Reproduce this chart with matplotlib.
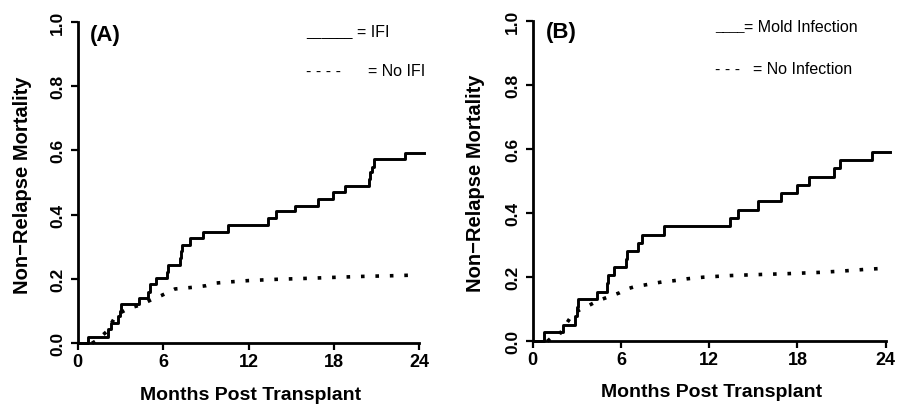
import matplotlib
matplotlib.use("Agg")
import matplotlib.pyplot as plt

plt.rcParams['font.family'] = ['Liberation Sans', 'DejaVu Sans']

# panel A: IFI vs no IFI
times_A = [0, 0.7, 2.1, 2.34, 2.85, 2.95, 3.05, 4.3, 4.96, 5.05, 5.5, 6.25, 6.35,
           7.19, 7.25, 7.35, 7.9, 8.83, 10.58, 13.39, 13.93, 15.27, 16.86, 17.92,
           18.79, 20.47, 20.55, 20.65, 20.83, 22.99, 24.3]
nrm_A = [0, 0.019, 0.044, 0.063, 0.086, 0.101, 0.122, 0.141, 0.16, 0.184, 0.202,
         0.222, 0.244, 0.264, 0.286, 0.306, 0.326, 0.345, 0.367, 0.389, 0.41,
         0.428, 0.449, 0.471, 0.49, 0.51, 0.532, 0.549, 0.573, 0.592, 0.592]
dot_t_A = [1.0, 1.3, 2.0, 2.66, 3.0, 3.6, 4.4, 5.2, 5.85, 6.84, 7.6, 8.3, 9.0,
           9.65, 10.4, 12.0, 14.0, 16.2, 18.0, 20.0, 22.0, 23.6]
dot_v_A = [0.0, 0.008, 0.035, 0.084, 0.095, 0.109, 0.119, 0.136, 0.148, 0.169,
           0.172, 0.175, 0.179, 0.187, 0.19, 0.195, 0.199, 0.202, 0.205, 0.208,
           0.21, 0.212]

# panel B: mold infection vs no infection
times_B = [0, 0.77, 2.08, 2.88, 2.98, 3.08, 4.35, 5.07, 5.15, 5.53, 6.34, 6.42,
           7.18, 7.41, 8.95, 13.41, 13.94, 15.3, 16.88, 17.95, 18.79, 20.5, 20.89,
           23.04, 24.3]
nrm_B = [0, 0.028, 0.051, 0.078, 0.106, 0.132, 0.155, 0.182, 0.208, 0.231, 0.257,
         0.283, 0.307, 0.333, 0.361, 0.385, 0.411, 0.439, 0.463, 0.489, 0.514,
         0.54, 0.567, 0.59, 0.59]
dot_t_B = [1.0, 1.3, 1.8, 2.72, 3.2, 3.71, 4.24, 4.76, 5.3, 5.89, 6.39, 6.98, 7.66,
           8.27, 8.9, 9.6, 10.5, 11.6, 13.4, 15.2, 17.3, 19.5, 21.0, 22.5, 24.0]
dot_v_B = [0.0, 0.012, 0.02, 0.085, 0.098, 0.109, 0.122, 0.132, 0.141, 0.151,
           0.163, 0.171, 0.176, 0.181, 0.186, 0.189, 0.195, 0.2, 0.205, 0.208,
           0.211, 0.215, 0.219, 0.224, 0.228]

x_ticks = [0, 6, 12, 18, 24]
y_ticks = [0.0, 0.2, 0.4, 0.6, 0.8, 1.0]

fig = plt.figure(figsize=(9.07, 4.06), dpi=100)
axA = fig.add_axes([0.0857, 0.152, 0.3766, 0.792])
axB = fig.add_axes([0.5873, 0.157, 0.3892, 0.789])


def style_axis(ax):
    ax.set_xlim(0, 24)
    ax.set_ylim(0, 1)
    ax.spines['top'].set_visible(False)
    ax.spines['right'].set_visible(False)
    for s in ['left', 'bottom']:
        ax.spines[s].set_linewidth(2.0)
    ax.set_xticks(x_ticks)
    ax.set_xticklabels([str(t) for t in x_ticks], fontsize=13, fontweight='bold')
    ax.set_yticks(y_ticks)
    ax.set_yticklabels(['%.1f' % v for v in y_ticks], fontsize=12.5,
                       fontweight='bold', rotation=90, va='center')
    ax.tick_params(axis='both', length=5, width=1.6, direction='out')
    ax.tick_params(axis='x', pad=2)
    ax.tick_params(axis='y', pad=4)
    ax.text(0.507, -0.158, 'Months Post Transplant', transform=ax.transAxes,
            ha='center', va='center', fontsize=14, fontweight='bold')
    ax.text(-0.161, 0.495, 'Non\u2212Relapse Mortality', transform=ax.transAxes,
            ha='center', va='center', rotation=90, fontsize=14.5, fontweight='bold')


for ax, t, v, dt, dv in [(axA, times_A, nrm_A, dot_t_A, dot_v_A),
                         (axB, times_B, nrm_B, dot_t_B, dot_v_B)]:
    style_axis(ax)
    ax.step(t, v, where='post', color='black', linewidth=2.1, clip_on=False)
    ax.plot(dt, dv, color='black', linewidth=2.6, dashes=(1, 3),
            dash_capstyle='butt', clip_on=False)

axA.text(0.86, 0.961, '(A)', fontsize=16, fontweight='bold', va='center', ha='left')
axB.text(0.88, 0.966, '(B)', fontsize=16, fontweight='bold', va='center', ha='left')

axA.text(16.04, 0.971, '______', fontsize=10, va='center', ha='left')
axA.text(19.6, 0.971, '= IFI', fontsize=11.5, va='center', ha='left')
axA.text(16.04, 0.847, '- - - -', fontsize=11.5, va='center', ha='left')
axA.text(20.4, 0.847, '= No IFI', fontsize=11.5, va='center', ha='left')

axB.text(12.39, 0.984, '____', fontsize=9.5, va='center', ha='left')
axB.text(14.35, 0.984, '= Mold Infection', fontsize=11.5, va='center', ha='left')
axB.text(12.39, 0.85, '- - -', fontsize=11.5, va='center', ha='left')
axB.text(14.98, 0.85, '= No Infection', fontsize=11.5, va='center', ha='left')

fig.savefig('out.png', dpi=100)
